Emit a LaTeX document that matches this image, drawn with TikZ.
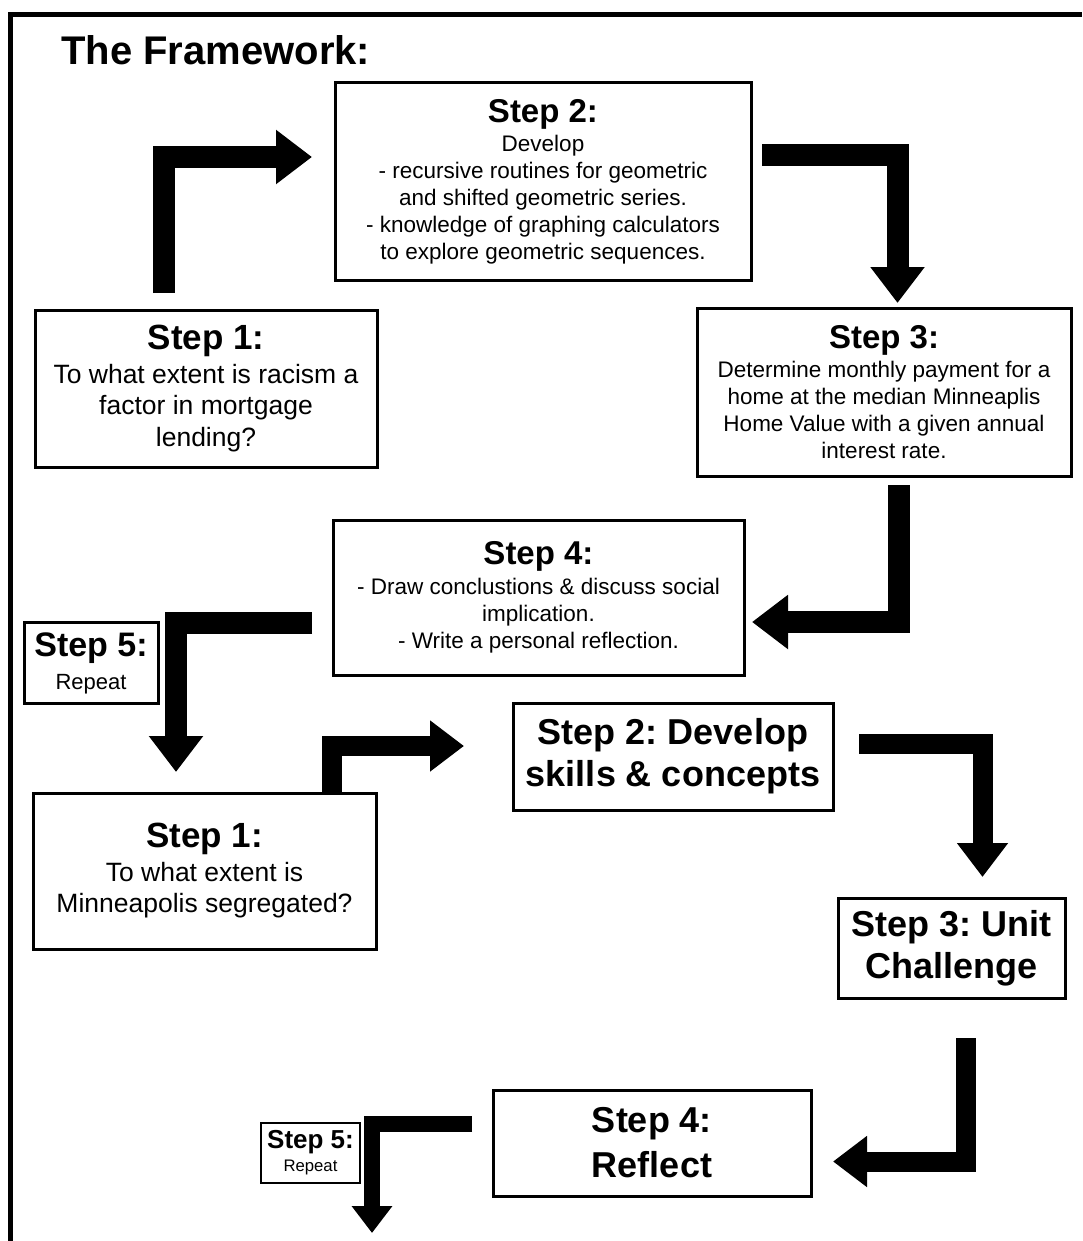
\documentclass[tikz,border=0pt]{standalone}
\usepackage{fontspec}
\setmainfont{Liberation Sans}
\usetikzlibrary{arrows.meta}
\newcommand\fwhd[1]{\bfseries\fontsize{#1}{#1}\selectfont}
\newcommand\fwbd[2]{\mdseries\fontsize{#1}{#2}\selectfont}
\newcommand\fwbig[1]{\bfseries\fontsize{36}{#1}\selectfont}
\begin{document}
\frenchspacing
\begin{tikzpicture}[x=1pt,y=-1pt,
  stepbox/.style={draw, line width=3pt, inner sep=0pt, align=center},
  bigarrow/.style={line width=22pt, -{Triangle[width=52pt,length=36pt]}},
  midarrow/.style={line width=20pt, -{Triangle[width=49pt,length=34pt]}},
  smallarrow/.style={line width=16pt, -{Triangle[width=39pt,length=27pt]}}]
\useasboundingbox (0,0) rectangle (1082,1241);
\fill[white] (0,0) rectangle (1082,1241);
% frame (top and left only)
\draw[line width=5.5pt] (10.5,1241) -- (10.5,14.5) -- (1082,14.5);
% title
\node[anchor=base west, inner sep=0pt, font=\fwhd{40}] (title) at (61,65) {The Framework:};

% first cycle
\node[stepbox, minimum width=416pt, minimum height=197pt, font=\fwbd{22.5}{27}] (s2a) at (543,181.5)
 {{\fwhd{33}Step 2:}\\[2pt]Develop\\- recursive routines for geometric\\and shifted geometric series.\\- knowledge of graphing calculators\\to explore geometric sequences.};
\node[stepbox, minimum width=342pt, minimum height=157pt, font=\fwbd{26.5}{31.5}] (s1a) at (206,388.5)
 {{\fwhd{35}Step 1:}\\[2pt]To what extent is racism a\\factor in mortgage\\lending?};
\node[stepbox, minimum width=374pt, minimum height=168pt, font=\fwbd{22.5}{27}] (s3a) at (884,392)
 {{\fwhd{33}Step 3:}\\[2pt]Determine monthly payment for a\\home at the median Minneaplis\\Home Value with a given annual\\interest rate.};
\node[stepbox, minimum width=411pt, minimum height=155pt, font=\fwbd{22.5}{27}] (s4a) at (538.5,597.5)
 {{\fwhd{33}Step 4:}\\[3pt]- Draw conclustions \& discuss social\\implication.\\- Write a personal reflection.};
\node[stepbox, minimum width=134pt, minimum height=81pt, font=\fwbd{22}{33}] (s5a) at (91,663)
 {{\fwhd{34}Step 5:}\\Repeat};

% second cycle
\node[stepbox, minimum width=343pt, minimum height=156pt, font=\fwbd{26.5}{31.5}] (s1b) at (204.5,871)
 {{\fwhd{35}Step 1:}\\[2pt]To what extent is\\Minneapolis segregated?};
\node[stepbox, minimum width=320pt, minimum height=107pt, font=\fwbig{42}] (s2b) at (673,756.5)
 {Step 2: Develop\\skills \& concepts};
\node[stepbox, minimum width=227pt, minimum height=100pt, font=\fwbig{42}] (s3b) at (951.5,948)
 {Step 3: Unit\\Challenge};
\node[stepbox, minimum width=318pt, minimum height=106pt, font=\fwbig{45}] (s4b) at (652,1143)
 {Step 4:\\Reflect};
\node[stepbox, line width=2.5pt, minimum width=99pt, minimum height=60pt, font=\fwbd{16.7}{23}] (s5b) at (310.5,1153)
 {{\fwhd{26}Step 5:}\\Repeat};

% arrow end points
\coordinate (a1s) at (164,293);   \coordinate (a1e) at (312,157);
\coordinate (a2s) at (762,155);   \coordinate (a2e) at (897.5,303);
\coordinate (a3s) at (899,485);   \coordinate (a3e) at (752,622);
\coordinate (a4s) at (312,622.5); \coordinate (a4e) at (176,772);
\coordinate (a5s) at (332,793);   \coordinate (a5e) at (464,746);
\coordinate (a6s) at (859,744);   \coordinate (a6e) at (982.5,877);
\coordinate (a7s) at (966,1038);  \coordinate (a7e) at (833,1161.5);
\coordinate (a8s) at (472,1123.5);\coordinate (a8e) at (372,1233);

\draw[bigarrow] (a1s) |- (a1e);
\draw[bigarrow] (a2s) -| (a2e);
\draw[bigarrow] (a3s) |- (a3e);
\draw[bigarrow] (a4s) -| (a4e);
\draw[midarrow] (a5s) |- (a5e);
\draw[midarrow] (a6s) -| (a6e);
\draw[midarrow] (a7s) |- (a7e);
\draw[smallarrow] (a8s) -| (a8e);
\end{tikzpicture}
\end{document}
